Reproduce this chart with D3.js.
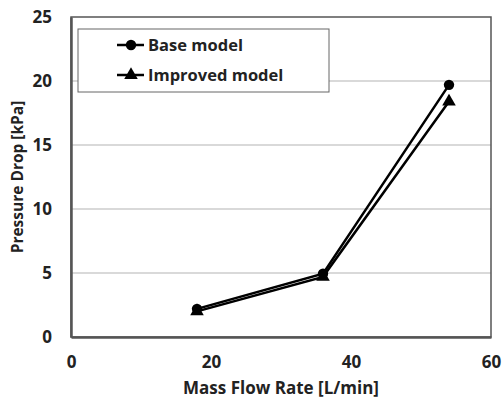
<!DOCTYPE html>
<html>
<head>
<meta charset="utf-8">
<script src="https://cdn.jsdelivr.net/npm/d3@7"></script>
<style>
  body { margin: 0; background: #fff; }
  text { font-family: "Open Sans", "Liberation Sans", sans-serif; font-weight: bold; fill: #222; }
</style>
</head>
<body>
<div id="chart"></div>
<script>
// Data
const flowRates = [18, 36, 54];
const baseModel = [2.2, 4.95, 19.7];
const improvedModel = [2.0, 4.7, 18.4];
const xTicks = [0, 20, 40, 60];
const yTicks = [0, 5, 10, 15, 20, 25];

const width = 503, height = 402;
const margin = { top: 17, right: 12, bottom: 65, left: 71 };
const innerW = width - margin.left - margin.right;
const innerH = height - margin.top - margin.bottom;

const svg = d3.select("#chart").append("svg")
    .attr("width", width)
    .attr("height", height);

const g = svg.append("g")
    .attr("transform", `translate(${margin.left},${margin.top})`);

const x = d3.scaleLinear().domain([0, 60]).range([0, innerW]);
const y = d3.scaleLinear().domain([0, 25]).range([innerH, 0]);

// Horizontal gridlines
g.append("g")
    .selectAll("line")
    .data(yTicks.filter(d => d > 0 && d < 25))
    .enter().append("line")
    .attr("x1", 0).attr("x2", innerW)
    .attr("y1", d => y(d)).attr("y2", d => y(d))
    .attr("stroke", "#b3b3b3")
    .attr("stroke-width", 1);

// Plot frame
g.append("rect")
    .attr("width", innerW).attr("height", innerH)
    .attr("fill", "none")
    .attr("stroke", "#555")
    .attr("stroke-width", 1.5);

// Axes (labels only)
const xAxis = g.append("g")
    .attr("transform", `translate(0,${innerH})`)
    .call(d3.axisBottom(x).tickValues(xTicks).tickSize(0).tickPadding(19));
xAxis.select(".domain").attr("stroke", "#555").attr("stroke-width", 2.5);
xAxis.selectAll("text").style("font-size", "17px").attr("fill", "#222");

const yAxis = g.append("g")
    .call(d3.axisLeft(y).tickValues(yTicks).tickSize(0).tickPadding(19));
yAxis.select(".domain").attr("stroke", "#555").attr("stroke-width", 2.5);
yAxis.selectAll("text").style("font-size", "17px").attr("fill", "#222");

// Axis titles
svg.append("text")
    .attr("x", margin.left + innerW / 2)
    .attr("y", 394)
    .attr("text-anchor", "middle")
    .style("font-size", "17px")
    .text("Mass Flow Rate [L/min]");

svg.append("text")
    .attr("transform", `translate(23,${margin.top + innerH / 2}) rotate(-90)`)
    .attr("text-anchor", "middle")
    .style("font-size", "15.5px")
    .text("Pressure Drop [kPa]");

// Series
const series = [
    { name: "Base model", values: baseModel, symbol: d3.symbolCircle, size: 85 },
    { name: "Improved model", values: improvedModel, symbol: d3.symbolTriangle, size: 80 }
];

const line = d3.line()
    .x((d, i) => x(flowRates[i]))
    .y(d => y(d));

series.forEach(s => {
    g.append("path")
        .datum(s.values)
        .attr("fill", "none")
        .attr("stroke", "#000")
        .attr("stroke-width", 2.5)
        .attr("d", line);

    g.append("g")
        .selectAll("path")
        .data(s.values)
        .enter().append("path")
        .attr("transform", (d, i) => `translate(${x(flowRates[i])},${y(d)})`)
        .attr("d", d3.symbol().type(s.symbol).size(s.size))
        .attr("fill", "#000");
});

// Legend
const legend = svg.append("g").attr("transform", "translate(78,29)");
legend.append("rect")
    .attr("width", 251).attr("height", 63)
    .attr("fill", "#fff")
    .attr("stroke", "#666")
    .attr("stroke-width", 1);

series.forEach((s, i) => {
    const row = legend.append("g").attr("transform", `translate(0,${16 + i * 30})`);
    row.append("line")
        .attr("x1", 39).attr("x2", 66)
        .attr("y1", 0).attr("y2", 0)
        .attr("stroke", "#000").attr("stroke-width", 2.5);
    row.append("path")
        .attr("transform", "translate(53,0)")
        .attr("d", d3.symbol().type(s.symbol).size(s.size))
        .attr("fill", "#000");
    row.append("text")
        .attr("x", 70).attr("y", 0)
        .attr("dy", "0.35em")
        .style("font-size", "16.5px")
        .text(s.name);
});
</script>
</body>
</html>
